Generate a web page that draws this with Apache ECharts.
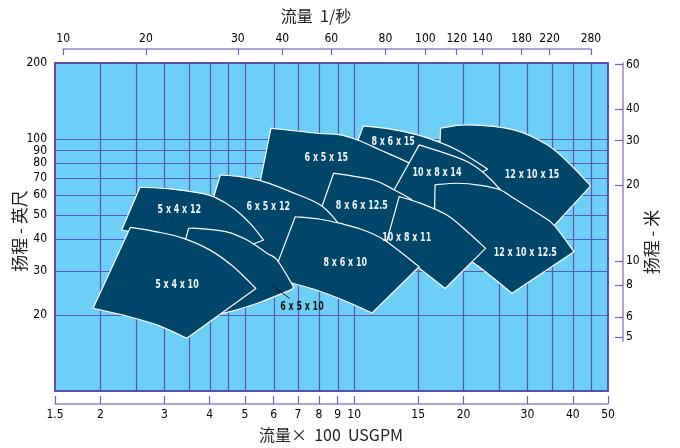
<!DOCTYPE html>
<html><head><meta charset="utf-8">
<script src="https://cdn.jsdelivr.net/npm/echarts@6/dist/echarts.min.js"></script>
<style>html,body{margin:0;padding:0;background:#fff}#c{width:680px;height:448px}</style>
</head><body><div id="c"></div>
<script>
// ---------------- data ----------------
// flow axis in hundreds of USGPM, head axis in feet
const bottomTicks = [1.5, 2, 3, 4, 5, 6, 7, 8, 9, 10, 15, 20, 30, 40, 50];
const leftTicks = [200, 100, 90, 80, 70, 60, 50, 40, 30, 20];
const rightTicks = [60, 40, 30, 20, 10, 8, 6, 5];            // metres
const topTickLabels = ['10', '20', '30', '40', '60', '80', '100', '120', '140', '180', '220', '280']; // l/s
const topTickAt = [1.58, 2.67, 4.78, 6.34, 8.65, 12.19, 15.71, 19.16, 22.52, 28.91, 34.52, 44.87]; // read positions (x100 USGPM)
const gridFlows = [2, 2.5, 3, 3.5, 4, 4.5, 5, 6, 7, 8, 9, 10, 15, 20, 25, 30, 35, 40, 45];
const gridHeads = [20, 30, 40, 50, 60, 70, 80, 90, 100];
const flowMin = 1.5, flowMax = 50, headMin = 10, headMax = 200;
const meterAxisEnd = 4.8;
const FT_TO_M = 0.3048;

// pump coverage areas: upper curve and lower curve, [flow, head]
const top12x10x15 = [[17.3,110.3],[20.5,113.7],[27.5,108.6],[34.0,94.7],[39.5,78.8],[44.8,65.1]];
const bot12x10x15 = [[17.1,75.3],[22.3,58.3],[28.7,51.3],[35.4,45.1]];
const top8x6x15 = [[10.6,112.6],[12.6,109.3],[15.5,102.1],[19.2,90.4],[23.3,75.8]];
const bot8x6x15 = [[9.88,85.6],[11.8,80.3],[14.3,76.7],[18.4,75.3],[22.5,73.9]];
const top6x5x15 = [[5.90,110.3],[7.90,105.3],[9.16,103.7],[10.3,98.5],[11.8,90.4],[14.1,80.5],[16.2,71.9],[17.8,65.7]];
const bot6x5x15 = [[5.48,65.1],[7.11,54.7],[9.16,49.9],[11.8,46.8],[15.7,54.7]];
const top10x8x14 = [[15.1,94.7],[17.3,89.0],[20.5,81.2],[22.8,73.1],[25.3,62.7],[26.6,56.2]];
const bot10x8x14 = [[12.6,59.4],[16.2,51.3],[20.9,46.8],[26.1,43.5]];
const top12x10x125 = [[16.7,65.7],[19.2,66.7],[22.3,65.4],[25.3,62.7],[27.5,58.1],[32.6,49.9],[35.5,45.5],[40.3,35.7]];
const bot12x10x125 = [[16.6,41.6],[19.0,36.2],[21.4,32.1],[24.2,28.0],[27.2,24.4]];
const top8x6x125 = [[8.78,73.1],[11.3,68.7],[12.9,62.7],[14.4,57.3],[15.7,51.3]];
const bot8x6x125 = [[7.87,46.8],[9.16,44.3],[11.1,39.7],[13.8,37.9]];
const top10x8x11 = [[13.3,59.0],[15.2,55.6],[18.0,49.9],[20.5,42.8],[23.0,36.8]];
const bot10x8x11 = [[12.1,36.2],[13.4,34.0],[14.9,31.1],[17.8,25.5]];
const top6x5x12 = [[4.28,71.9],[4.85,70.8],[5.63,67.7],[6.67,61.8],[8.07,54.7],[9.06,46.2],[9.76,39.7]];
const bot6x5x12 = [[3.96,49.9],[4.85,40.4],[5.87,33.7],[6.46,30.7],[8.07,30.2]];
const top5x4x12 = [[2.57,64.3],[3.11,63.3],[3.77,60.9],[4.10,59.0],[4.65,53.1],[5.17,46.2],[5.63,39.7]];
const bot5x4x12 = [[2.29,43.5],[2.92,40.8],[3.77,38.3],[5.28,38.3]];
const top8x6x10 = [[6.88,49.1],[8.07,48.0],[9.16,46.2],[10.4,43.9],[12.1,39.7],[15.1,31.1]];
const bot8x6x10 = [[5.95,28.3],[6.81,26.7],[7.90,25.1],[9.35,22.9],[11.2,20.4]];
const top6x5x10 = [[3.50,44.2],[3.77,44.1],[4.46,42.8],[5.07,39.7],[5.75,35.2],[6.13,33.1],[6.81,25.9]];
const bot6x5x10 = [[3.02,20.6],[3.77,19.8],[4.46,20.5],[5.51,22.5],[6.74,25.3]];
const top5x4x10 = [[2.42,44.6],[2.86,42.8],[3.39,40.3],[4.01,36.2],[4.65,31.1],[5.36,25.5]];
const bot5x4x10 = [[1.91,21.3],[2.31,20.0],[2.86,18.3],[3.46,16.2]];

// drawing order (back to front)
const pumpNames = ['12 x 10 x 15','8 x 6 x 15','6 x 5 x 15','10 x 8 x 14','12 x 10 x 12.5','8 x 6 x 12.5',
                   '10 x 8 x 11','6 x 5 x 12','5 x 4 x 12','8 x 6 x 10','6 x 5 x 10','5 x 4 x 10'];
const pumpTops = [top12x10x15, top8x6x15, top6x5x15, top10x8x14, top12x10x125, top8x6x125,
                  top10x8x11, top6x5x12, top5x4x12, top8x6x10, top6x5x10, top5x4x10];
const pumpBottoms = [bot12x10x15, bot8x6x15, bot6x5x15, bot10x8x14, bot12x10x125, bot8x6x125,
                     bot10x8x11, bot6x5x12, bot5x4x12, bot8x6x10, bot6x5x10, bot5x4x10];
const labelAt = [[30.9,72.4],[12.8,97.6],[8.38,84.6],[16.9,73.8],[29.6,35.4],[10.5,54.2],
                 [13.95,40.6],[5.80,53.8],[3.30,52.2],[9.45,32.3],[7.18,21.6],[3.25,26.5]];
const outsideLabel = '6 x 5 x 10';
const leaderFrom = [5.94, 26.3], leaderTo = [6.64, 23.3];

// ---------------- style ----------------
const BG = '#6dcff6', GRID = '#5d55b5', BORDER = '#5a4fab', AXIS = '#8e89cc', TICK = '#6c64bb';
const PUMP = '#00466b';
const NUM_FONT = "'DejaVu Sans Condensed','Liberation Sans Narrow',sans-serif";
const CJK = "'Noto Sans CJK SC','Noto Sans CJK JP',sans-serif";
const L = Math.log10;

function fmt(vals, labels) {
  return function (v) {
    for (let i = 0; i < vals.length; i++) if (Math.abs(L(vals[i]) - v) < 1e-6) return labels[i];
    return '';
  };
}
function curveTo(p) {
  let d = '';
  for (let i = 0; i < p.length - 1; i++) {
    const p0 = p[i - 1] || p[i], p1 = p[i], p2 = p[i + 1], p3 = p[i + 2] || p[i + 1];
    const c1 = [p1[0] + (p2[0] - p0[0]) / 6, p1[1] + (p2[1] - p0[1]) / 6];
    const c2 = [p2[0] - (p3[0] - p1[0]) / 6, p2[1] - (p3[1] - p1[1]) / 6];
    d += ' C' + c1[0] + ',' + c1[1] + ' ' + c2[0] + ',' + c2[1] + ' ' + p2[0] + ',' + p2[1];
  }
  return d;
}

const plotTop = 63, plotBottom = 391, plotLeft = 55, plotRight = 608;
const plotH = plotBottom - plotTop;
const rightTopM = headMax * FT_TO_M;
const rightH = plotH * L(rightTopM / meterAxisEnd) / L(headMax / headMin);
const topAxisLeft = plotLeft + (plotRight - plotLeft) * L(topTickAt[0] / flowMin) / L(flowMax / flowMin);
const topAxisRight = plotLeft + (plotRight - plotLeft) * L(topTickAt[topTickAt.length - 1] / flowMin) / L(flowMax / flowMin);

const chart = echarts.init(document.getElementById('c'), null, {renderer: 'canvas'});
const numLabel = {fontFamily: NUM_FONT, fontSize: 12, color: '#000'};

chart.setOption({
  animation: false,
  backgroundColor: '#fff',
  grid: [
    {left: plotLeft, right: 680 - plotRight, top: plotTop, bottom: 448 - plotBottom, show: true,
     backgroundColor: BG, borderColor: BORDER, borderWidth: 2},
    {left: plotLeft, right: 57, top: plotTop, height: rightH, show: false},
    {left: topAxisLeft, right: 680 - topAxisRight, top: 49, height: 1, show: false}
  ],
  xAxis: [
    {gridIndex: 0, type: 'value', min: L(flowMin), max: L(flowMax), position: 'bottom', offset: 13,
     axisLine: {show: true, onZero: false, lineStyle: {color: AXIS, width: 1.5}},
     axisTick: {show: true, inside: true, length: 8, customValues: bottomTicks.map(L), lineStyle: {color: TICK, width: 1.2}},
     axisLabel: Object.assign({customValues: bottomTicks.map(L), margin: 5,
       formatter: fmt(bottomTicks, bottomTicks.map(String))}, numLabel),
     splitLine: {show: false}},
    {gridIndex: 1, type: 'value', show: false, min: 1, max: 2},
    {gridIndex: 2, type: 'value', min: L(topTickAt[0]), max: L(topTickAt[topTickAt.length - 1]), position: 'top',
     axisLine: {show: true, onZero: false, lineStyle: {color: AXIS, width: 1.5}},
     axisTick: {show: true, inside: true, length: 6, customValues: topTickAt.map(L), lineStyle: {color: TICK, width: 1.2}},
     axisLabel: Object.assign({customValues: topTickAt.map(L), margin: 4,
       formatter: fmt(topTickAt, topTickLabels)}, numLabel),
     splitLine: {show: false}}
  ],
  yAxis: [
    {gridIndex: 0, type: 'value', min: L(headMin), max: L(headMax),
     axisLine: {show: false, onZero: false}, axisTick: {show: false},
     axisLabel: Object.assign({customValues: leftTicks.map(L), margin: 8,
       formatter: fmt(leftTicks, leftTicks.map(String))}, numLabel),
     splitLine: {show: false}},
    {gridIndex: 1, type: 'value', position: 'right', min: L(meterAxisEnd), max: L(rightTopM),
     axisLine: {show: true, onZero: false, lineStyle: {color: AXIS, width: 1.5}},
     axisTick: {show: true, inside: true, length: 8, customValues: rightTicks.map(L), lineStyle: {color: TICK, width: 1.2}},
     axisLabel: Object.assign({customValues: rightTicks.map(L), margin: 3,
       formatter: fmt(rightTicks, rightTicks.map(String))}, numLabel),
     splitLine: {show: false}},
    {gridIndex: 2, type: 'value', show: false, min: 1, max: 2}
  ],
  series: [
    {type: 'custom', xAxisIndex: 0, yAxisIndex: 0, z: 1, silent: true,
     data: gridFlows.map(f => [L(f), 1.5]),
     renderItem: function (params, api) {
       const a = api.coord([api.value(0), L(headMin)]), b = api.coord([api.value(0), L(headMax)]);
       const x = Math.round(a[0]) + 0.5;
       return {type: 'line', shape: {x1: x, y1: a[1], x2: x, y2: b[1]}, style: {stroke: GRID, lineWidth: 1.2}};
     }},
    {type: 'custom', xAxisIndex: 0, yAxisIndex: 0, z: 1, silent: true,
     data: gridHeads.map(h => [0.5, L(h)]),
     renderItem: function (params, api) {
       const a = api.coord([L(flowMin), api.value(1)]), b = api.coord([L(flowMax), api.value(1)]);
       const y = Math.round(a[1]) + 0.5;
       return {type: 'line', shape: {x1: a[0], y1: y, x2: b[0], y2: y}, style: {stroke: GRID, lineWidth: 1.2}};
     }},
    {type: 'custom', xAxisIndex: 0, yAxisIndex: 0, z: 3, silent: true,
     data: labelAt.map(p => [L(p[0]), L(p[1])]),
     renderItem: function (params, api) {
       const i = params.dataIndex;
       const c = p => api.coord([L(p[0]), L(p[1])]);
       const top = pumpTops[i].map(c);
       const bot = pumpBottoms[i].map(c).reverse();
       const d = 'M' + top[0][0] + ',' + top[0][1] + curveTo(top) +
                 ' L' + bot[0][0] + ',' + bot[0][1] + curveTo(bot) + ' Z';
       return {type: 'path', shape: {pathData: d},
               style: {fill: PUMP, stroke: '#ffffff', lineWidth: 1.2, lineJoin: 'round'}};
     }},
    {type: 'custom', xAxisIndex: 0, yAxisIndex: 0, z: 5, silent: true,
     data: labelAt.map(p => [L(p[0]), L(p[1])]),
     renderItem: function (params, api) {
       const i = params.dataIndex;
       const p = api.coord([api.value(0), api.value(1)]);
       const outside = pumpNames[i] === outsideLabel;
       const children = [{type: 'text', x: p[0], y: p[1], scaleX: 0.68, scaleY: 1,
         style: {text: pumpNames[i], fill: outside ? '#111' : '#eef6fa', font: 'bold 13px ' + NUM_FONT,
                 align: 'center', verticalAlign: 'middle'}}];
       if (outside) {
         const a = api.coord([L(leaderFrom[0]), L(leaderFrom[1])]);
         const b = api.coord([L(leaderTo[0]), L(leaderTo[1])]);
         children.push({type: 'line', shape: {x1: a[0], y1: a[1], x2: b[0], y2: b[1]},
                        style: {stroke: '#111', lineWidth: 1}});
       }
       return {type: 'group', children: children};
     }}
  ],
  graphic: [
    {type: 'text', x: 316, y: 16,
     style: {text: '流量  1/秒', font: '16px ' + CJK, fill: '#222', align: 'center', verticalAlign: 'middle'}, z: 10},
    {type: 'text', x: 331, y: 435,
     style: {text: '流量×  100  USGPM', font: '16px ' + CJK, fill: '#222', align: 'center', verticalAlign: 'middle'}, z: 10},
    {type: 'text', x: 20, y: 231, rotation: Math.PI / 2,
     style: {text: '扬程 - 英尺', font: '17px ' + CJK, fill: '#222', align: 'center', verticalAlign: 'middle'}, z: 10},
    {type: 'text', x: 652, y: 242, rotation: Math.PI / 2,
     style: {text: '扬程 - 米', font: '17px ' + CJK, fill: '#222', align: 'center', verticalAlign: 'middle'}, z: 10}
  ]
});
</script>
</body></html>
